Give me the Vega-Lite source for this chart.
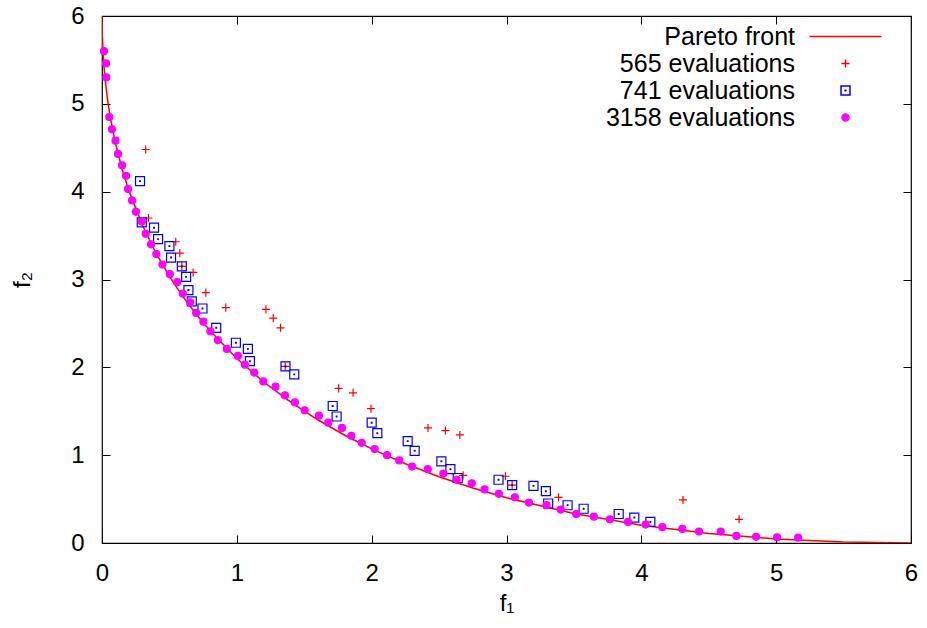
{
  "$schema": "https://vega.github.io/schema/vega-lite/v6.json",
  "width": 809,
  "height": 527,
  "autosize": {"type": "none"},
  "padding": {"left": 102, "top": 16, "right": 16, "bottom": 85},
  "background": "white",
  "config": {
    "view": {"stroke": "black", "strokeWidth": 1.2},
    "font": "Liberation Sans",
    "axis": {
      "domain": false,
      "grid": false,
      "tickSize": -8,
      "tickColor": "black",
      "tickWidth": 1,
      "labelFont": "Liberation Sans",
      "labelFontSize": 24,
      "labelColor": "black",
      "labelFlush": false,
      "labelOverlap": false,
      "titleFont": "Liberation Sans",
      "titleFontSize": 24,
      "titleFontWeight": "normal",
      "titleColor": "black"
    },
    "legend": {
      "labelFont": "Liberation Sans",
      "labelFontSize": 25,
      "labelColor": "black",
      "labelLimit": 0,
      "labelAlign": "right",
      "labelOffset": -63,
      "symbolSize": 81,
      "symbolStrokeWidth": 1.5,
      "rowPadding": 1,
      "padding": 0
    }
  },
  "datasets": {
    "front": [
      {"s": "Pareto front", "f1": 0, "f2": 6}, {"s": "Pareto front", "f1": 0.002, "f2": 5.783},
      {"s": "Pareto front", "f1": 0.01, "f2": 5.52}, {"s": "Pareto front", "f1": 0.02, "f2": 5.327},
      {"s": "Pareto front", "f1": 0.04, "f2": 5.06}, {"s": "Pareto front", "f1": 0.06, "f2": 4.86},
      {"s": "Pareto front", "f1": 0.1, "f2": 4.551}, {"s": "Pareto front", "f1": 0.15, "f2": 4.253},
      {"s": "Pareto front", "f1": 0.2, "f2": 4.009}, {"s": "Pareto front", "f1": 0.3, "f2": 3.617},
      {"s": "Pareto front", "f1": 0.4, "f2": 3.302}, {"s": "Pareto front", "f1": 0.5, "f2": 3.036},
      {"s": "Pareto front", "f1": 0.6, "f2": 2.805}, {"s": "Pareto front", "f1": 0.7, "f2": 2.601},
      {"s": "Pareto front", "f1": 0.8, "f2": 2.418}, {"s": "Pareto front", "f1": 1.0, "f2": 2.101},
      {"s": "Pareto front", "f1": 1.2, "f2": 1.833}, {"s": "Pareto front", "f1": 1.4, "f2": 1.603},
      {"s": "Pareto front", "f1": 1.6, "f2": 1.403}, {"s": "Pareto front", "f1": 1.8, "f2": 1.227},
      {"s": "Pareto front", "f1": 2.0, "f2": 1.072}, {"s": "Pareto front", "f1": 2.25, "f2": 0.902},
      {"s": "Pareto front", "f1": 2.5, "f2": 0.754}, {"s": "Pareto front", "f1": 2.75, "f2": 0.626},
      {"s": "Pareto front", "f1": 3.0, "f2": 0.515}, {"s": "Pareto front", "f1": 3.5, "f2": 0.335},
      {"s": "Pareto front", "f1": 4.0, "f2": 0.202}, {"s": "Pareto front", "f1": 4.5, "f2": 0.108},
      {"s": "Pareto front", "f1": 5.0, "f2": 0.046}, {"s": "Pareto front", "f1": 5.5, "f2": 0.011},
      {"s": "Pareto front", "f1": 6.0, "f2": 0}
    ],
    "pts": [
      {"s": "565 evaluations", "f1": 0.324, "f2": 4.48}, {"s": "565 evaluations", "f1": 0.344, "f2": 3.70},
      {"s": "565 evaluations", "f1": 0.547, "f2": 3.43}, {"s": "565 evaluations", "f1": 0.577, "f2": 3.30},
      {"s": "565 evaluations", "f1": 0.592, "f2": 3.15}, {"s": "565 evaluations", "f1": 0.676, "f2": 3.08},
      {"s": "565 evaluations", "f1": 0.770, "f2": 2.85}, {"s": "565 evaluations", "f1": 0.918, "f2": 2.68},
      {"s": "565 evaluations", "f1": 1.216, "f2": 2.66}, {"s": "565 evaluations", "f1": 1.270, "f2": 2.56},
      {"s": "565 evaluations", "f1": 1.324, "f2": 2.45}, {"s": "565 evaluations", "f1": 1.359, "f2": 2.01},
      {"s": "565 evaluations", "f1": 1.755, "f2": 1.76}, {"s": "565 evaluations", "f1": 1.862, "f2": 1.71},
      {"s": "565 evaluations", "f1": 1.995, "f2": 1.53}, {"s": "565 evaluations", "f1": 2.418, "f2": 1.31},
      {"s": "565 evaluations", "f1": 2.547, "f2": 1.28}, {"s": "565 evaluations", "f1": 2.654, "f2": 1.23},
      {"s": "565 evaluations", "f1": 2.678, "f2": 0.77}, {"s": "565 evaluations", "f1": 2.992, "f2": 0.76},
      {"s": "565 evaluations", "f1": 3.042, "f2": 0.66}, {"s": "565 evaluations", "f1": 3.386, "f2": 0.52},
      {"s": "565 evaluations", "f1": 4.309, "f2": 0.49}, {"s": "565 evaluations", "f1": 4.725, "f2": 0.27},
      {"s": "741 evaluations", "f1": 0.282, "f2": 4.12}, {"s": "741 evaluations", "f1": 0.295, "f2": 3.65},
      {"s": "741 evaluations", "f1": 0.386, "f2": 3.59}, {"s": "741 evaluations", "f1": 0.416, "f2": 3.46},
      {"s": "741 evaluations", "f1": 0.500, "f2": 3.38}, {"s": "741 evaluations", "f1": 0.512, "f2": 3.25},
      {"s": "741 evaluations", "f1": 0.592, "f2": 3.15}, {"s": "741 evaluations", "f1": 0.624, "f2": 3.03},
      {"s": "741 evaluations", "f1": 0.641, "f2": 2.88}, {"s": "741 evaluations", "f1": 0.666, "f2": 2.75},
      {"s": "741 evaluations", "f1": 0.745, "f2": 2.67}, {"s": "741 evaluations", "f1": 0.847, "f2": 2.45},
      {"s": "741 evaluations", "f1": 0.993, "f2": 2.28}, {"s": "741 evaluations", "f1": 1.082, "f2": 2.21},
      {"s": "741 evaluations", "f1": 1.097, "f2": 2.07}, {"s": "741 evaluations", "f1": 1.361, "f2": 2.01},
      {"s": "741 evaluations", "f1": 1.426, "f2": 1.92}, {"s": "741 evaluations", "f1": 1.711, "f2": 1.56},
      {"s": "741 evaluations", "f1": 1.740, "f2": 1.44}, {"s": "741 evaluations", "f1": 2.000, "f2": 1.37},
      {"s": "741 evaluations", "f1": 2.042, "f2": 1.25}, {"s": "741 evaluations", "f1": 2.267, "f2": 1.16},
      {"s": "741 evaluations", "f1": 2.319, "f2": 1.05}, {"s": "741 evaluations", "f1": 2.517, "f2": 0.93},
      {"s": "741 evaluations", "f1": 2.584, "f2": 0.84}, {"s": "741 evaluations", "f1": 2.638, "f2": 0.74},
      {"s": "741 evaluations", "f1": 2.941, "f2": 0.72}, {"s": "741 evaluations", "f1": 3.042, "f2": 0.66},
      {"s": "741 evaluations", "f1": 3.200, "f2": 0.65}, {"s": "741 evaluations", "f1": 3.292, "f2": 0.59},
      {"s": "741 evaluations", "f1": 3.309, "f2": 0.45}, {"s": "741 evaluations", "f1": 3.453, "f2": 0.43},
      {"s": "741 evaluations", "f1": 3.572, "f2": 0.39}, {"s": "741 evaluations", "f1": 3.832, "f2": 0.33},
      {"s": "741 evaluations", "f1": 3.948, "f2": 0.29}, {"s": "741 evaluations", "f1": 4.067, "f2": 0.24},
      {"s": "3158 evaluations", "f1": 0.015, "f2": 5.60}, {"s": "3158 evaluations", "f1": 0.030, "f2": 5.46},
      {"s": "3158 evaluations", "f1": 0.032, "f2": 5.30}, {"s": "3158 evaluations", "f1": 0.054, "f2": 4.85},
      {"s": "3158 evaluations", "f1": 0.074, "f2": 4.71}, {"s": "3158 evaluations", "f1": 0.100, "f2": 4.58},
      {"s": "3158 evaluations", "f1": 0.119, "f2": 4.43}, {"s": "3158 evaluations", "f1": 0.149, "f2": 4.30},
      {"s": "3158 evaluations", "f1": 0.178, "f2": 4.18}, {"s": "3158 evaluations", "f1": 0.193, "f2": 4.03},
      {"s": "3158 evaluations", "f1": 0.223, "f2": 3.90}, {"s": "3158 evaluations", "f1": 0.252, "f2": 3.77},
      {"s": "3158 evaluations", "f1": 0.295, "f2": 3.66}, {"s": "3158 evaluations", "f1": 0.324, "f2": 3.52},
      {"s": "3158 evaluations", "f1": 0.364, "f2": 3.40}, {"s": "3158 evaluations", "f1": 0.403, "f2": 3.29},
      {"s": "3158 evaluations", "f1": 0.448, "f2": 3.17}, {"s": "3158 evaluations", "f1": 0.503, "f2": 3.06},
      {"s": "3158 evaluations", "f1": 0.557, "f2": 2.97}, {"s": "3158 evaluations", "f1": 0.599, "f2": 2.84},
      {"s": "3158 evaluations", "f1": 0.653, "f2": 2.74}, {"s": "3158 evaluations", "f1": 0.698, "f2": 2.62},
      {"s": "3158 evaluations", "f1": 0.752, "f2": 2.52}, {"s": "3158 evaluations", "f1": 0.804, "f2": 2.41},
      {"s": "3158 evaluations", "f1": 0.859, "f2": 2.31}, {"s": "3158 evaluations", "f1": 0.926, "f2": 2.21},
      {"s": "3158 evaluations", "f1": 1.008, "f2": 2.13}, {"s": "3158 evaluations", "f1": 1.060, "f2": 2.03},
      {"s": "3158 evaluations", "f1": 1.129, "f2": 1.94}, {"s": "3158 evaluations", "f1": 1.196, "f2": 1.84},
      {"s": "3158 evaluations", "f1": 1.287, "f2": 1.78}, {"s": "3158 evaluations", "f1": 1.357, "f2": 1.68},
      {"s": "3158 evaluations", "f1": 1.431, "f2": 1.60}, {"s": "3158 evaluations", "f1": 1.503, "f2": 1.51},
      {"s": "3158 evaluations", "f1": 1.609, "f2": 1.45}, {"s": "3158 evaluations", "f1": 1.678, "f2": 1.37},
      {"s": "3158 evaluations", "f1": 1.780, "f2": 1.31}, {"s": "3158 evaluations", "f1": 1.849, "f2": 1.22},
      {"s": "3158 evaluations", "f1": 1.926, "f2": 1.14}, {"s": "3158 evaluations", "f1": 2.022, "f2": 1.07},
      {"s": "3158 evaluations", "f1": 2.114, "f2": 1.00}, {"s": "3158 evaluations", "f1": 2.205, "f2": 0.94},
      {"s": "3158 evaluations", "f1": 2.300, "f2": 0.87}, {"s": "3158 evaluations", "f1": 2.416, "f2": 0.84},
      {"s": "3158 evaluations", "f1": 2.532, "f2": 0.79}, {"s": "3158 evaluations", "f1": 2.631, "f2": 0.72},
      {"s": "3158 evaluations", "f1": 2.742, "f2": 0.68}, {"s": "3158 evaluations", "f1": 2.837, "f2": 0.61},
      {"s": "3158 evaluations", "f1": 2.943, "f2": 0.56}, {"s": "3158 evaluations", "f1": 3.062, "f2": 0.52},
      {"s": "3158 evaluations", "f1": 3.166, "f2": 0.46}, {"s": "3158 evaluations", "f1": 3.297, "f2": 0.43},
      {"s": "3158 evaluations", "f1": 3.401, "f2": 0.38}, {"s": "3158 evaluations", "f1": 3.517, "f2": 0.33},
      {"s": "3158 evaluations", "f1": 3.648, "f2": 0.30}, {"s": "3158 evaluations", "f1": 3.767, "f2": 0.27},
      {"s": "3158 evaluations", "f1": 3.901, "f2": 0.24}, {"s": "3158 evaluations", "f1": 4.032, "f2": 0.21},
      {"s": "3158 evaluations", "f1": 4.156, "f2": 0.18}, {"s": "3158 evaluations", "f1": 4.304, "f2": 0.16},
      {"s": "3158 evaluations", "f1": 4.428, "f2": 0.13}, {"s": "3158 evaluations", "f1": 4.589, "f2": 0.13},
      {"s": "3158 evaluations", "f1": 4.705, "f2": 0.08}, {"s": "3158 evaluations", "f1": 4.851, "f2": 0.07},
      {"s": "3158 evaluations", "f1": 5.007, "f2": 0.065}, {"s": "3158 evaluations", "f1": 5.163, "f2": 0.06}
    ]
  },
  "resolve": {"axis": {"x": "independent", "y": "independent"}},
  "layer": [
    {
      "data": {"name": "front"},
      "mark": {"type": "line", "strokeWidth": 1.5, "clip": true},
      "encoding": {
        "x": {"field": "f1", "type": "quantitative",
              "scale": {"domain": [0, 6], "nice": false, "zero": false},
              "axis": {"orient": "bottom", "values": [0, 1, 2, 3, 4, 5, 6], "title": "f₁", "labelPadding": 26, "titlePadding": 6}},
        "y": {"field": "f2", "type": "quantitative",
              "scale": {"domain": [0, 6], "nice": false, "zero": false},
              "axis": {"orient": "left", "values": [0, 1, 2, 3, 4, 5, 6], "title": "f₂", "labelPadding": 26, "titlePadding": 36}},
        "stroke": {"field": "s", "type": "nominal",
                   "scale": {"domain": ["Pareto front", "565 evaluations", "741 evaluations", "3158 evaluations"],
                             "range": ["#ff0000", "#ff0000", "#0000ff", "#ff00ff"]},
                   "legend": {"title": null, "orient": "none", "legendX": 731, "legendY": 8,
                              "encode": {"symbols": {"update": {"stroke": {"scale": "stroke", "field": "value"}}}}}},
        "order": {"field": "f1", "type": "quantitative"}
      }
    },
    {
      "data": {"name": "pts"},
      "mark": {"type": "point", "filled": false, "size": 81, "strokeWidth": 1.2, "opacity": 1},
      "encoding": {
        "x": {"field": "f1", "type": "quantitative",
              "axis": {"orient": "top", "values": [0, 1, 2, 3, 4, 5, 6], "labels": false, "title": null}},
        "y": {"field": "f2", "type": "quantitative",
              "axis": {"orient": "right", "values": [0, 1, 2, 3, 4, 5, 6], "labels": false, "title": null}},
        "stroke": {"field": "s", "type": "nominal",
                   "legend": {"title": null, "orient": "none", "legendX": 731, "legendY": 8,
                              "encode": {"symbols": {"update": {"stroke": {"scale": "stroke", "field": "value"}}}}}},
        "fill": {"field": "s", "type": "nominal",
                 "scale": {"domain": ["Pareto front", "565 evaluations", "741 evaluations", "3158 evaluations"],
                           "range": ["transparent", "transparent", "transparent", "#ff00ff"]},
                 "legend": {"title": null, "orient": "none", "legendX": 731, "legendY": 8}},
        "shape": {"field": "s", "type": "nominal",
                  "scale": {"domain": ["Pareto front", "565 evaluations", "741 evaluations", "3158 evaluations"],
                            "range": ["M-8,0H8", "M-0.9,0H0.9M0,-0.9V0.9", "M-1,-1H1V1H-1ZM-0.08,-0.08H0.08V0.08H-0.08Z", "M0.78,0A0.78,0.78,0,1,1,-0.78,0A0.78,0.78,0,1,1,0.78,0Z"]},
                  "legend": {"title": null, "orient": "none", "legendX": 731, "legendY": 8}}
      }
    }
  ]
}
